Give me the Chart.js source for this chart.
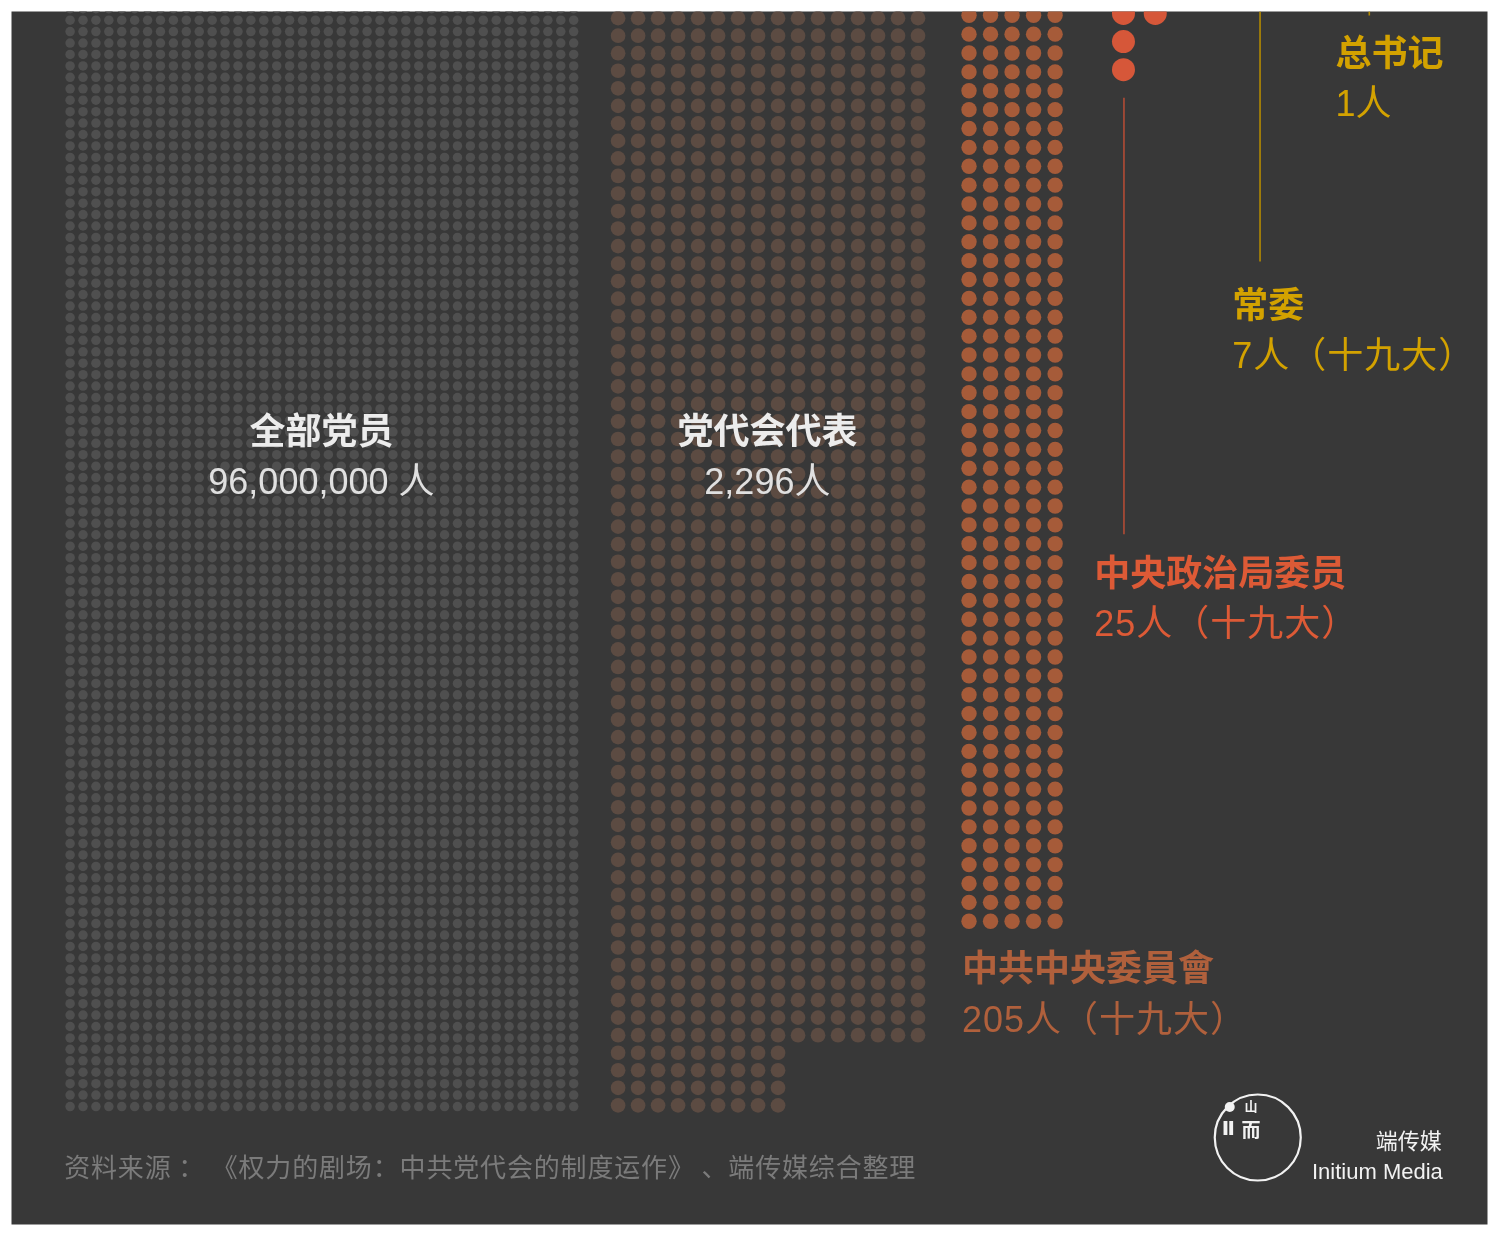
<!DOCTYPE html>
<html>
<head>
<meta charset="utf-8">
<script src="https://cdn.jsdelivr.net/npm/chart.js@4.4.1/dist/chart.umd.min.js"></script>
<style>
html,body{margin:0;padding:0;background:#ffffff;overflow:hidden;}
#c{display:block;width:1499px;height:1236px;}
</style>
</head>
<body>
<canvas id="c" width="1499" height="1236"></canvas>
<script>
// ---------- DATA ----------
const categories = ['全部党员', '党代会代表', '中共中央委員會', '中央政治局委员', '常委', '总书记'];
const memberTotals = [96000000, 2296, 205, 25, 7, 1];
const congressTag = ['', '', '（十九大）', '（十九大）', '（十九大）', ''];
// visible dots of each block, as [number of rows, dots per row]
const memberDotRows = [[97, 40]];
const delegateDotRows = [[59, 16], [4, 9]];
const committeeDotRows = [[49, 5]];
const politburoDotRows = [[1, 2], [2, 1]];
const sourceText = '资料来源 ： 《权力的剧场：中共党代会的制度运作》 、端传媒综合整理';

// ---------- LAYOUT / STYLE ----------
const BG = '#383838';
const blockStyle = [
  {x0: 65,     y0: 5.2,  dx: 13,    dy: 11.53, r: 4.75, color: '#4f4f4f'},
  {x0: 616.7,  y0: 14.7, dx: 20.13, dy: 17.68, r: 7.35, color: '#5c4b42'},
  {x0: 970,    y0: 11.8, dx: 21.67, dy: 19.03, r: 7.7,  color: '#a65b39'},
  {x0: 1125.5, y0: 9.9,  dx: 32,    dy: 28.4,  r: 11.5, color: '#d65739'}
];
const blockRows = [memberDotRows, delegateDotRows, committeeDotRows, politburoDotRows];

function gridPoints(rowsSpec, st) {
  const pts = [];
  let row = 0;
  rowsSpec.forEach(([nRows, perRow]) => {
    for (let i = 0; i < nRows; i++, row++) {
      for (let c = 0; c < perRow; c++) {
        pts.push({x: st.x0 + c * st.dx, y: st.y0 + row * st.dy});
      }
    }
  });
  return pts;
}

const dotDatasets = blockRows.map((spec, i) => ({
  label: categories[i],
  data: gridPoints(spec, blockStyle[i]),
  showLine: false,
  pointRadius: blockStyle[i].r,
  pointHoverRadius: blockStyle[i].r,
  pointBackgroundColor: blockStyle[i].color,
  pointBorderWidth: 0,
  borderWidth: 0,
  clip: 0
}));

// leader lines (annotations)
const leaders = [
  {x: 1126, y1: 95, y2: 535, color: '#b24c35'},
  {x: 1263, y1: 8,  y2: 260, color: '#b38a00'},
  {x: 1373, y1: 8,  y2: 12,  color: '#b38a00'}
];
const leaderDatasets = leaders.map(l => ({
  data: [{x: l.x, y: l.y1}, {x: l.x, y: l.y2}],
  showLine: true,
  borderColor: l.color,
  borderWidth: 1.6,
  pointRadius: 0,
  clip: 0
}));

const fmt = n => n.toLocaleString('en-US');
const CJK = '"Liberation Sans", "Noto Sans CJK SC", sans-serif';
const labelSpec = [
  {x: 318, y: 430, align: 'center', c1: '#ececec', c2: '#e0e0e0', sep: ' '},
  {x: 767, y: 430, align: 'center', c1: '#ececec', c2: '#e0e0e0', sep: ''},
  {x: 963, y: 972, align: 'left', c1: '#b0603c', c2: '#b0603c', sep: ''},
  {x: 1096, y: 573, align: 'left', c1: '#dd5a36', c2: '#dd5a36', sep: ''},
  {x: 1235, y: 303, align: 'left', c1: '#d3a200', c2: '#d3a200', sep: ''},
  {x: 1339, y: 49,  align: 'left', c1: '#d3a200', c2: '#d3a200', sep: ''}
];

const bgPlugin = {
  id: 'bg',
  beforeDraw(chart) {
    const {ctx, chartArea: a} = chart;
    ctx.save();
    ctx.fillStyle = '#ffffff';
    ctx.fillRect(0, 0, chart.width, chart.height);
    ctx.fillStyle = BG;
    ctx.fillRect(a.left, a.top, a.right - a.left, a.bottom - a.top);
    ctx.restore();
  }
};

const textPlugin = {
  id: 'texts',
  afterDatasetsDraw(chart) {
    const {ctx} = chart;
    const xs = chart.scales.x, ys = chart.scales.y;
    ctx.save();
    ctx.textBaseline = 'middle';
    categories.forEach((name, i) => {
      const s = labelSpec[i];
      const px = xs.getPixelForValue(s.x), py = ys.getPixelForValue(s.y);
      ctx.textAlign = s.align;
      ctx.fillStyle = s.c1;
      ctx.font = 'bold 36px "Noto Sans CJK SC", sans-serif';
      ctx.letterSpacing = '0px';
      ctx.fillText(name, px, py);
      ctx.fillStyle = s.c2;
      ctx.font = '36px ' + CJK;
      ctx.letterSpacing = congressTag[i] ? '1px' : '0px';
      ctx.fillText(fmt(memberTotals[i]) + s.sep + '人' + congressTag[i], px, py + 54);
    });
    // source, fitted to its width in the original
    ctx.textAlign = 'left';
    ctx.fillStyle = '#7b7b7b';
    ctx.font = '26px "Noto Sans CJK SC", sans-serif';
    ctx.letterSpacing = '0px';
    const w = ctx.measureText(sourceText).width;
    const n = [...sourceText].length;
    ctx.letterSpacing = Math.max(0, (852 - w) / n).toFixed(2) + 'px';
    ctx.fillText(sourceText, xs.getPixelForValue(59), ys.getPixelForValue(1173));
    ctx.letterSpacing = '0px';
    // logo
    ctx.strokeStyle = '#f2f2f2';
    ctx.lineWidth = 2.2;
    ctx.beginPath();
    ctx.arc(xs.getPixelForValue(1260.7), ys.getPixelForValue(1143.3), 43, 0, Math.PI * 2);
    ctx.stroke();
    ctx.fillStyle = '#f2f2f2';
    ctx.beginPath();
    ctx.arc(xs.getPixelForValue(1232.5), ys.getPixelForValue(1112.5), 5, 0, Math.PI * 2);
    ctx.fill();
    ctx.textAlign = 'center';
    ctx.font = 'bold 13px "Noto Sans CJK SC", sans-serif';
    ctx.fillText('山', xs.getPixelForValue(1254), ys.getPixelForValue(1112));
    ctx.font = 'bold 20px "DejaVu Sans", sans-serif';
    ctx.fillText('Ⅱ', xs.getPixelForValue(1231), ys.getPixelForValue(1136));
    ctx.font = 'bold 19px "Noto Sans CJK SC", sans-serif';
    ctx.fillText('而', xs.getPixelForValue(1254), ys.getPixelForValue(1136));
    ctx.textAlign = 'right';
    ctx.font = '22px "Noto Sans CJK SC", sans-serif';
    ctx.fillText('端传媒', xs.getPixelForValue(1446), ys.getPixelForValue(1146));
    ctx.font = '22px "Liberation Sans", sans-serif';
    ctx.fillText('Initium Media', xs.getPixelForValue(1447), ys.getPixelForValue(1179));
    ctx.restore();
  }
};

new Chart(document.getElementById('c'), {
  type: 'scatter',
  data: {datasets: [...dotDatasets, ...leaderDatasets]},
  options: {
    responsive: false,
    devicePixelRatio: 1,
    animation: false,
    events: [],
    layout: {padding: {left: 6, top: 8, right: 7, bottom: 5}},
    scales: {
      x: {type: 'linear', min: 6, max: 1492, display: false},
      y: {type: 'linear', min: 8, max: 1231, reverse: true, display: false}
    },
    plugins: {legend: {display: false}, tooltip: {enabled: false}}
  },
  plugins: [bgPlugin, textPlugin]
});
</script>
</body>
</html>
